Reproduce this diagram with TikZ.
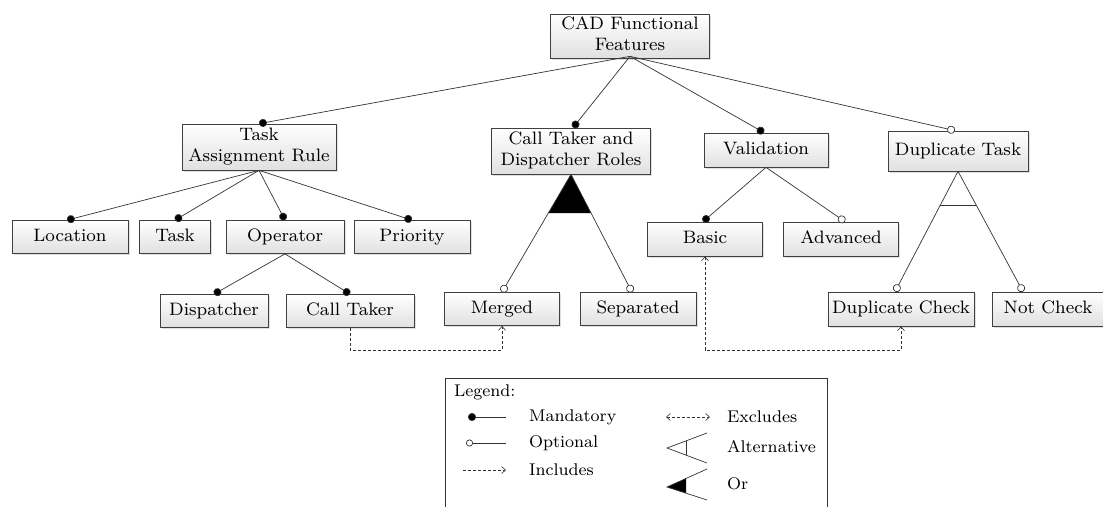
\documentclass[tikz,border=0pt]{standalone}
\usetikzlibrary{arrows.meta,calc,shadows}
\newcommand\ftx[1]{\scalebox{2.25}{\fontsize{8}{8.9}\selectfont\begin{tabular}{@{}c@{}}#1\end{tabular}}}
\newcommand\lgx[1]{\scalebox{2.12}{\fontsize{8}{8.9}\selectfont #1}}
\begin{document}
\begin{tikzpicture}[x=1pt,y=-1pt,
  >={Straight Barb[length=4pt, width=7pt]},
  feat/.style={draw=black!75, line width=0.7pt, top color=white, bottom color=black!12,
    drop shadow={opacity=0.25, shadow xshift=1.5pt, shadow yshift=-1.5pt},
    inner sep=0pt, align=center},
  conn/.style={draw=black!80, line width=0.7pt},
  mand/.style={conn, -{Circle[length=8pt, fill=black]}},
  opt/.style={conn, -{Circle[open, length=8pt, fill=white]}},
  dsh/.style={draw=black!80, line width=0.6pt, dash pattern=on 3pt off 2pt},
  lgtext/.style={anchor=west, inner sep=0pt}]
\useasboundingbox (0,0) rectangle (1103,506);

% nodes
\node[feat, minimum width=159, minimum height=44] (root) at (630,36) {\ftx{CAD Functional\\Features}};
\node[feat, minimum width=154, minimum height=46] (tar) at (259,147) {\ftx{Task\\Assignment Rule}};
\node[feat, minimum width=159, minimum height=46] (ctdr) at (571,151) {\ftx{Call Taker and\\Dispatcher Roles}};
\node[feat, minimum width=124, minimum height=34] (val) at (766,150) {\ftx{Validation}};
\node[feat, minimum width=140, minimum height=40] (dt) at (958,151) {\ftx{Duplicate Task}};
\node[feat, minimum width=116, minimum height=33] (loc) at (70,237) {\ftx{Location}};
\node[feat, minimum width=71, minimum height=33] (task) at (175,237) {\ftx{Task}};
\node[feat, minimum width=118, minimum height=33] (op) at (285,237) {\ftx{Operator}};
\node[feat, minimum width=116, minimum height=33] (pri) at (412,237) {\ftx{Priority}};
\node[feat, minimum width=115, minimum height=34] (basic) at (705,239) {\ftx{Basic}};
\node[feat, minimum width=115, minimum height=34] (adv) at (841,239) {\ftx{Advanced}};
\node[feat, minimum width=108, minimum height=33] (disp) at (214,311) {\ftx{Dispatcher}};
\node[feat, minimum width=128, minimum height=33] (ct) at (350,311) {\ftx{Call Taker}};
\node[feat, minimum width=115, minimum height=33] (mer) at (502,309) {\ftx{Merged}};
\node[feat, minimum width=116, minimum height=33] (sep) at (638,309) {\ftx{Separated}};
\node[feat, minimum width=146, minimum height=34] (dc) at (901,309) {\ftx{Duplicate Check}};
\node[feat, minimum width=111, minimum height=34] (nc) at (1048,309) {\ftx{Not Check}};

\coordinate (rootb) at ([yshift=2]root.south);
\coordinate (sepn) at ([xshift=-6]sep.north);
\coordinate (ncn) at ([xshift=-25]nc.north);
\coordinate (dcn) at ([xshift=-6]dc.north);

% root edges
\draw[mand] (rootb) -- (tar.north);
\draw[mand] (rootb) -- ([xshift=2]ctdr.north);
\draw[mand] (rootb) -- ([xshift=-2]val.north);
\draw[opt] (rootb) -- ([xshift=-3]dt.north);

% task assignment rule
\draw[mand] (tar.south) -- ([xshift=-3]loc.north);
\draw[mand] (tar.south) -- (task.north);
\draw[mand] (tar.south) -- (op.north);
\draw[mand] (tar.south) -- (pri.north);

% operator
\draw[mand] (op.south) -- (disp.north);
\draw[mand] (op.south) -- (ct.north);

% or group
\fill[black] (ctdr.south) -- ($(ctdr.south)!0.33!(mer.north)$) -- ($(ctdr.south)!0.33!(sepn)$) -- cycle;
\draw[opt] (ctdr.south) -- (mer.north);
\draw[opt] (ctdr.south) -- (sepn);

% validation
\draw[mand] (val.south) -- ([xshift=-2]basic.north);
\draw[opt] (val.south) -- ([xshift=4]adv.north);

% alternative group
\draw[opt] (dt.south) -- (dcn);
\draw[opt] (dt.south) -- (ncn);
\draw[conn] ($(dt.south)!0.28!(dcn)$) -- ($(dt.south)!0.28!(ncn)$);

% includes / excludes
\coordinate (ic) at (502,350);
\coordinate (ec) at (901,350);
\draw[dsh, ->] (ct.south) |- (ic) -- (mer.south);
\draw[dsh, <->] (basic.south) |- (ec) -- (dc.south);

% legend
\node[draw=black!80, line width=0.7pt, minimum width=382, minimum height=140, inner sep=0pt] (lg) at (636,448) {};
\node[lgtext] (lgt) at (454,392) {\lgx{Legend:}};
\coordinate (m1) at (468,417); \coordinate (m2) at (506,417);
\draw[conn, {Circle[length=8pt, fill=black]}-] (m1) -- (m2);
\node[lgtext] (lm) at (529,417) {\lgx{Mandatory}};
\coordinate (o1) at (466,443); \coordinate (o2) at (506,443);
\draw[conn, {Circle[open, length=7pt, fill=white]}-] (o1) -- (o2);
\node[lgtext] (lo) at (529,443) {\lgx{Optional}};
\coordinate (i1) at (463,470); \coordinate (i2) at (506,470);
\draw[dsh, ->] (i1) -- (i2);
\node[lgtext] (li) at (529,470) {\lgx{Includes}};
\coordinate (e1) at (666,417); \coordinate (e2) at (710,417);
\draw[dsh, <->] (e1) -- (e2);
\node[lgtext] (le) at (727,417) {\lgx{Excludes}};
\coordinate (a0) at (667,448); \coordinate (a1) at (707,433); \coordinate (a2) at (707,463);
\draw[conn] (a1) -- (a0) -- (a2);
\draw[conn] ($(a0)!0.48!(a1)$) -- ($(a0)!0.48!(a2)$);
\node[lgtext] (la) at (727,447) {\lgx{Alternative}};
\coordinate (r0) at (667,487); \coordinate (r1) at (707,469); \coordinate (r2) at (707,500);
\fill[black] (r0) -- ($(r0)!0.48!(r1)$) -- ($(r0)!0.48!(r2)$) -- cycle;
\draw[conn] (r1) -- (r0) -- (r2);
\node[lgtext] (lr) at (727,484) {\lgx{Or}};
\end{tikzpicture}
\end{document}
